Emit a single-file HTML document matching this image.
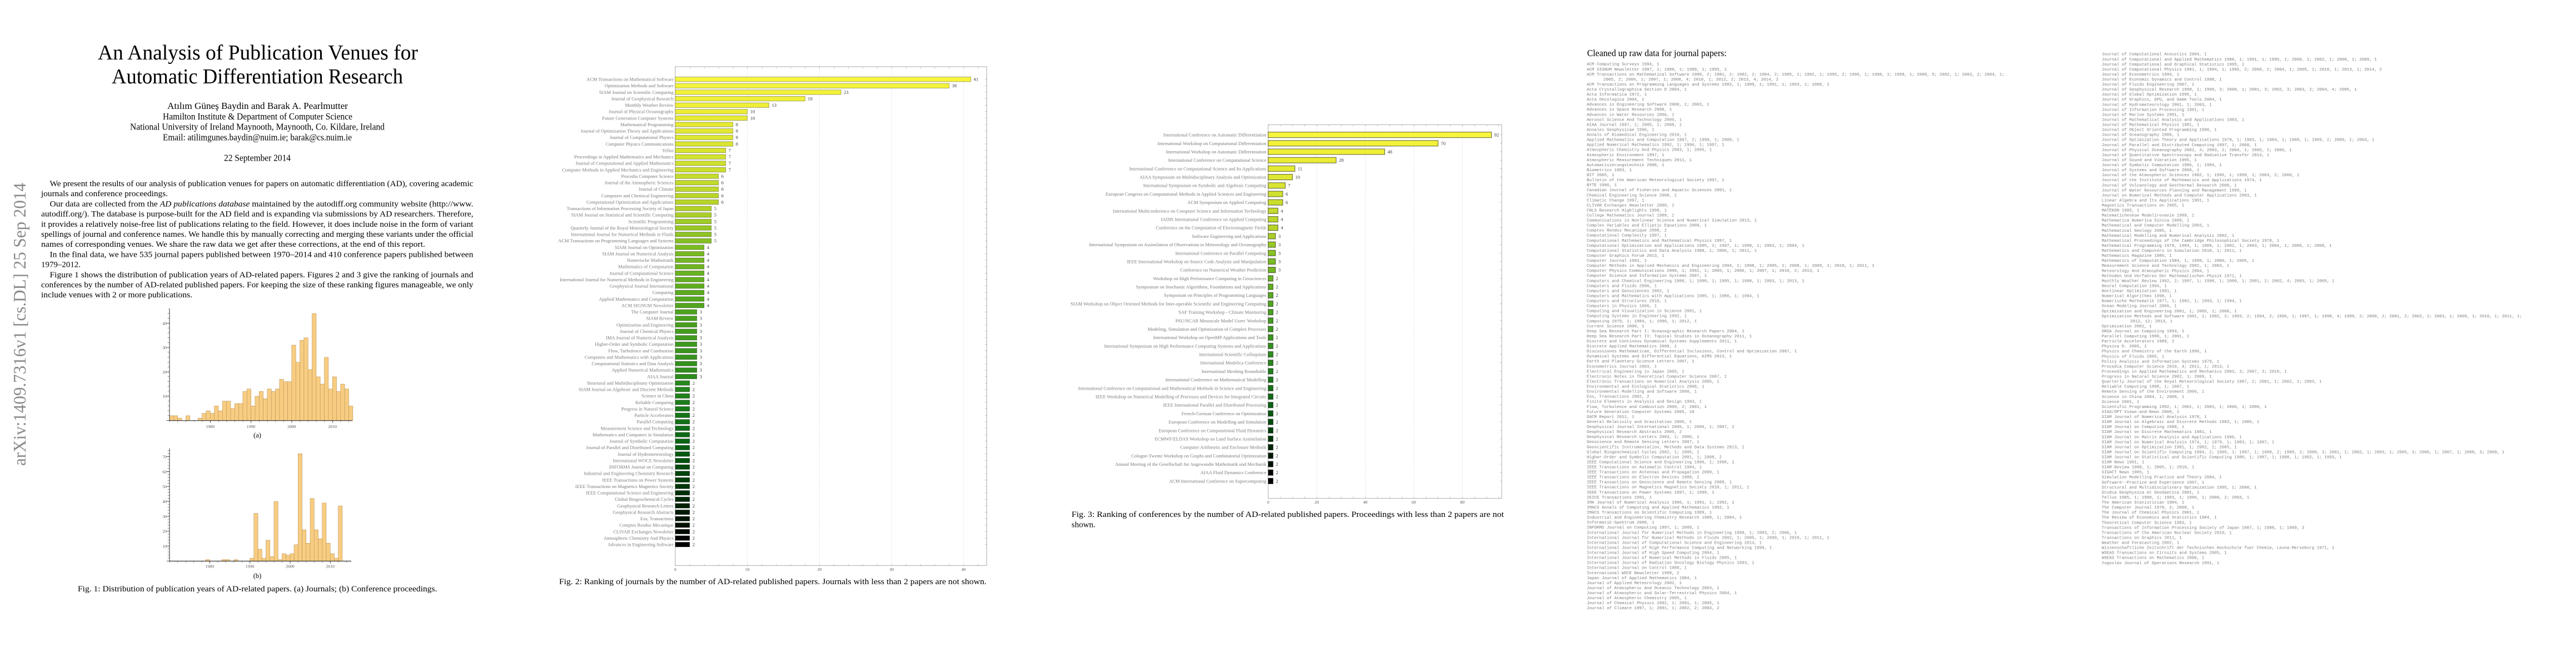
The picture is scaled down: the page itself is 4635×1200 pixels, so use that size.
<!DOCTYPE html>
<html><head><meta charset="utf-8"><style>
html,body{margin:0;padding:0;background:#fff;}
svg{display:block;}
.serif{font-family:"Liberation Serif","DejaVu Serif",serif;}
.jl{font-family:"Liberation Serif",serif;font-size:8.5px;fill:#7a7a7a;text-anchor:end;}
.vl{font-family:"Liberation Serif",serif;font-size:8.5px;fill:#3a3a3a;}
.tk{font-family:"Liberation Serif",serif;font-size:7.8px;fill:#555;}
.mono{font-family:"Liberation Mono",monospace;font-size:7.5px;fill:#7c7c7c;}
</style></head><body>
<svg width="4635" height="1200" viewBox="0 0 4635 1200" xmlns="http://www.w3.org/2000/svg">
<defs>
<linearGradient id="gj" gradientUnits="userSpaceOnUse" x1="0" y1="142.7" x2="0" y2="979.7">
<stop offset="0" stop-color="rgb(247,245,60)"/><stop offset="0.055" stop-color="rgb(238,238,55)"/><stop offset="0.15" stop-color="rgb(215,228,48)"/><stop offset="0.28" stop-color="rgb(178,210,40)"/><stop offset="0.36" stop-color="rgb(125,188,35)"/><stop offset="0.49" stop-color="rgb(80,165,30)"/><stop offset="0.64" stop-color="rgb(45,140,30)"/><stop offset="0.71" stop-color="rgb(25,120,25)"/><stop offset="0.78" stop-color="rgb(10,100,20)"/><stop offset="0.86" stop-color="rgb(0,62,10)"/><stop offset="0.9" stop-color="rgb(0,42,6)"/><stop offset="0.94" stop-color="rgb(0,22,3)"/><stop offset="1" stop-color="rgb(0,0,0)"/>
</linearGradient>
<linearGradient id="gc" gradientUnits="userSpaceOnUse" x1="0" y1="242.6" x2="0" y2="865.4">
<stop offset="0" stop-color="rgb(247,245,60)"/><stop offset="0.055" stop-color="rgb(238,238,55)"/><stop offset="0.15" stop-color="rgb(215,228,48)"/><stop offset="0.28" stop-color="rgb(178,210,40)"/><stop offset="0.36" stop-color="rgb(125,188,35)"/><stop offset="0.49" stop-color="rgb(80,165,30)"/><stop offset="0.64" stop-color="rgb(45,140,30)"/><stop offset="0.71" stop-color="rgb(25,120,25)"/><stop offset="0.78" stop-color="rgb(10,100,20)"/><stop offset="0.86" stop-color="rgb(0,62,10)"/><stop offset="0.9" stop-color="rgb(0,42,6)"/><stop offset="0.94" stop-color="rgb(0,22,3)"/><stop offset="1" stop-color="rgb(0,0,0)"/>
</linearGradient>
</defs>
<rect width="4635" height="1200" fill="#fff"/>

<!-- ================= PAGE 1 ================= -->
<text class="serif" transform="translate(46,838) rotate(-90)" font-size="32" fill="#8a8a8a" textLength="509" lengthAdjust="spacingAndGlyphs">arXiv:1409.7316v1  [cs.DL]  25 Sep 2014</text>

<g class="serif" fill="#000">
<text x="176" y="107" font-size="38" textLength="576" lengthAdjust="spacingAndGlyphs">An Analysis of Publication Venues for</text>
<text x="201" y="150" font-size="38" textLength="524" lengthAdjust="spacingAndGlyphs">Automatic Differentiation Research</text>
<text x="301" y="196" font-size="16.5" textLength="325" lengthAdjust="spacingAndGlyphs">Atılım Güneş Baydin and Barak A. Pearlmutter</text>
<text x="293" y="215" font-size="16.5" textLength="341" lengthAdjust="spacingAndGlyphs">Hamilton Institute &amp; Department of Computer Science</text>
<text x="234" y="233.5" font-size="16.5" textLength="458" lengthAdjust="spacingAndGlyphs">National University of Ireland Maynooth, Maynooth, Co. Kildare, Ireland</text>
<text x="293" y="252.5" font-size="16.5" textLength="340" lengthAdjust="spacingAndGlyphs">Email: atilimgunes.baydin@nuim.ie; barak@cs.nuim.ie</text>
<text x="403" y="289.5" font-size="16.5" textLength="120" lengthAdjust="spacingAndGlyphs">22 September 2014</text>

<g font-size="15">
<text x="89.5" y="335" textLength="762" lengthAdjust="spacingAndGlyphs">We present the results of our analysis of publication venues for papers on automatic differentiation (AD), covering academic</text>
<text x="74" y="353.2" textLength="228" lengthAdjust="spacingAndGlyphs">journals and conference proceedings.</text>
<text x="89.5" y="371.4" textLength="762" lengthAdjust="spacingAndGlyphs">Our data are collected from the <tspan font-style="italic">AD publications database</tspan> maintained by the autodiff.org community website (http://www.</text>
<text x="74" y="389.6" textLength="777.6" lengthAdjust="spacingAndGlyphs">autodiff.org/). The database is purpose-built for the AD field and is expanding via submissions by AD researchers. Therefore,</text>
<text x="74" y="407.8" textLength="777.6" lengthAdjust="spacingAndGlyphs">it provides a relatively noise-free list of publications relating to the field. However, it does include noise in the form of variant</text>
<text x="74" y="426" textLength="777.6" lengthAdjust="spacingAndGlyphs">spellings of journal and conference names. We handle this by manually correcting and merging these variants under the official</text>
<text x="74" y="444.2" textLength="691" lengthAdjust="spacingAndGlyphs">names of corresponding venues. We share the raw data we get after these corrections, at the end of this report.</text>
<text x="89.5" y="462.4" textLength="762" lengthAdjust="spacingAndGlyphs">In the final data, we have 535 journal papers published between 1970–2014 and 410 conference papers published between</text>
<text x="74" y="480.6" textLength="71" lengthAdjust="spacingAndGlyphs">1979–2012.</text>
<text x="89.5" y="498.8" textLength="762" lengthAdjust="spacingAndGlyphs">Figure 1 shows the distribution of publication years of AD-related papers. Figures 2 and 3 give the ranking of journals and</text>
<text x="74" y="517" textLength="777.6" lengthAdjust="spacingAndGlyphs">conferences by the number of AD-related published papers. For keeping the size of these ranking figures manageable, we only</text>
<text x="74" y="535.2" textLength="272" lengthAdjust="spacingAndGlyphs">include venues with 2 or more publications.</text>
<text x="140" y="1064" textLength="646.5" lengthAdjust="spacingAndGlyphs">Fig. 1: Distribution of publication years of AD-related papers. (a) Journals; (b) Conference proceedings.</text>
</g>
<text x="463" y="787" font-size="12.5" text-anchor="middle">(a)</text>
<text x="463" y="1040" font-size="12.5" text-anchor="middle">(b)</text>
</g>

<!-- Histogram (a) -->
<g transform="translate(305,756.7) scale(7.33,-4.378)" fill="#f8cd82" stroke="#b8925a" stroke-width="0.6">
<rect vector-effect="non-scaling-stroke" x="0" y="0" width="1" height="2"/>
<rect vector-effect="non-scaling-stroke" x="1" y="0" width="1" height="2"/>
<rect vector-effect="non-scaling-stroke" x="2" y="0" width="1" height="1"/>
<rect vector-effect="non-scaling-stroke" x="4" y="0" width="1" height="2"/>
<rect vector-effect="non-scaling-stroke" x="7" y="0" width="1" height="1"/>
<rect vector-effect="non-scaling-stroke" x="8" y="0" width="1" height="3"/>
<rect vector-effect="non-scaling-stroke" x="9" y="0" width="1" height="4"/>
<rect vector-effect="non-scaling-stroke" x="10" y="0" width="1" height="3"/>
<rect vector-effect="non-scaling-stroke" x="11" y="0" width="1" height="6"/>
<rect vector-effect="non-scaling-stroke" x="12" y="0" width="1" height="4"/>
<rect vector-effect="non-scaling-stroke" x="13" y="0" width="1" height="8"/>
<rect vector-effect="non-scaling-stroke" x="14" y="0" width="1" height="8"/>
<rect vector-effect="non-scaling-stroke" x="15" y="0" width="1" height="5"/>
<rect vector-effect="non-scaling-stroke" x="16" y="0" width="1" height="7"/>
<rect vector-effect="non-scaling-stroke" x="17" y="0" width="1" height="7"/>
<rect vector-effect="non-scaling-stroke" x="18" y="0" width="1" height="12"/>
<rect vector-effect="non-scaling-stroke" x="19" y="0" width="1" height="13"/>
<rect vector-effect="non-scaling-stroke" x="20" y="0" width="1" height="6"/>
<rect vector-effect="non-scaling-stroke" x="21" y="0" width="1" height="10"/>
<rect vector-effect="non-scaling-stroke" x="22" y="0" width="1" height="12"/>
<rect vector-effect="non-scaling-stroke" x="23" y="0" width="1" height="9"/>
<rect vector-effect="non-scaling-stroke" x="24" y="0" width="1" height="13"/>
<rect vector-effect="non-scaling-stroke" x="25" y="0" width="1" height="12"/>
<rect vector-effect="non-scaling-stroke" x="26" y="0" width="1" height="13"/>
<rect vector-effect="non-scaling-stroke" x="27" y="0" width="1" height="17"/>
<rect vector-effect="non-scaling-stroke" x="28" y="0" width="1" height="16"/>
<rect vector-effect="non-scaling-stroke" x="29" y="0" width="1" height="16"/>
<rect vector-effect="non-scaling-stroke" x="30" y="0" width="1" height="31"/>
<rect vector-effect="non-scaling-stroke" x="31" y="0" width="1" height="24"/>
<rect vector-effect="non-scaling-stroke" x="32" y="0" width="1" height="33"/>
<rect vector-effect="non-scaling-stroke" x="33" y="0" width="1" height="34"/>
<rect vector-effect="non-scaling-stroke" x="34" y="0" width="1" height="21"/>
<rect vector-effect="non-scaling-stroke" x="35" y="0" width="1" height="44"/>
<rect vector-effect="non-scaling-stroke" x="36" y="0" width="1" height="18"/>
<rect vector-effect="non-scaling-stroke" x="37" y="0" width="1" height="15"/>
<rect vector-effect="non-scaling-stroke" x="38" y="0" width="1" height="26"/>
<rect vector-effect="non-scaling-stroke" x="39" y="0" width="1" height="13"/>
<rect vector-effect="non-scaling-stroke" x="40" y="0" width="1" height="18"/>
<rect vector-effect="non-scaling-stroke" x="41" y="0" width="1" height="12"/>
<rect vector-effect="non-scaling-stroke" x="42" y="0" width="1" height="15"/>
<rect vector-effect="non-scaling-stroke" x="43" y="0" width="1" height="13"/>
<rect vector-effect="non-scaling-stroke" x="44" y="0" width="1" height="6"/>
</g>
<g stroke="#333" fill="none">
<line x1="305" y1="555" x2="305" y2="757.2" stroke-width="1"/>
<line x1="304.5" y1="756.7" x2="634" y2="756.7" stroke-width="1.2"/>
<line x1="303" y1="756.7" x2="303" y2="555" stroke-width="3" stroke-dasharray="0.6 8.156" stroke-opacity="0.8"/>
<line x1="302" y1="757" x2="302" y2="560" stroke-width="5" stroke-dasharray="0.7 43.08"/>
<line x1="305" y1="758" x2="634" y2="758" stroke-width="3" stroke-dasharray="0.6 14.06" stroke-opacity="0.8"/>
<line x1="378" y1="759" x2="634" y2="759" stroke-width="4" stroke-dasharray="0.7 72.6"/>
</g>
<g class="tk" text-anchor="end">
<text x="300" y="715.7">10</text><text x="300" y="671.9">20</text><text x="300" y="628.2">30</text><text x="300" y="584.4">40</text>
</g>
<g class="tk" text-anchor="middle">
<text x="378.3" y="770">1980</text><text x="451.6" y="770">1990</text><text x="524.9" y="770">2000</text><text x="598.2" y="770">2010</text>
</g>

<!-- Histogram (b) -->
<g transform="translate(305,1009.5) scale(7.23,-2.683)" fill="#f8cd82" stroke="#b8925a" stroke-width="0.6">
<rect vector-effect="non-scaling-stroke" x="9" y="0" width="1" height="1"/>
<rect vector-effect="non-scaling-stroke" x="13" y="0" width="1" height="1"/>
<rect vector-effect="non-scaling-stroke" x="14" y="0" width="1" height="1"/>
<rect vector-effect="non-scaling-stroke" x="16" y="0" width="1" height="1"/>
<rect vector-effect="non-scaling-stroke" x="20" y="0" width="1" height="2"/>
<rect vector-effect="non-scaling-stroke" x="21" y="0" width="1" height="32"/>
<rect vector-effect="non-scaling-stroke" x="22" y="0" width="1" height="8"/>
<rect vector-effect="non-scaling-stroke" x="23" y="0" width="1" height="2"/>
<rect vector-effect="non-scaling-stroke" x="24" y="0" width="1" height="14"/>
<rect vector-effect="non-scaling-stroke" x="25" y="0" width="1" height="3"/>
<rect vector-effect="non-scaling-stroke" x="26" y="0" width="1" height="40"/>
<rect vector-effect="non-scaling-stroke" x="27" y="0" width="1" height="1"/>
<rect vector-effect="non-scaling-stroke" x="28" y="0" width="1" height="5"/>
<rect vector-effect="non-scaling-stroke" x="29" y="0" width="1" height="4"/>
<rect vector-effect="non-scaling-stroke" x="30" y="0" width="1" height="5"/>
<rect vector-effect="non-scaling-stroke" x="31" y="0" width="1" height="11"/>
<rect vector-effect="non-scaling-stroke" x="32" y="0" width="1" height="72"/>
<rect vector-effect="non-scaling-stroke" x="33" y="0" width="1" height="21"/>
<rect vector-effect="non-scaling-stroke" x="34" y="0" width="1" height="12"/>
<rect vector-effect="non-scaling-stroke" x="35" y="0" width="1" height="42"/>
<rect vector-effect="non-scaling-stroke" x="36" y="0" width="1" height="21"/>
<rect vector-effect="non-scaling-stroke" x="37" y="0" width="1" height="15"/>
<rect vector-effect="non-scaling-stroke" x="38" y="0" width="1" height="39"/>
<rect vector-effect="non-scaling-stroke" x="39" y="0" width="1" height="12"/>
<rect vector-effect="non-scaling-stroke" x="40" y="0" width="1" height="5"/>
<rect vector-effect="non-scaling-stroke" x="41" y="0" width="1" height="2"/>
<rect vector-effect="non-scaling-stroke" x="42" y="0" width="1" height="37"/>
</g>
<g stroke="#333" fill="none">
<line x1="305" y1="806.7" x2="305" y2="1010" stroke-width="1"/>
<line x1="304.5" y1="1009.5" x2="632" y2="1009.5" stroke-width="1.2"/>
<line x1="303" y1="1009.5" x2="303" y2="806.7" stroke-width="3" stroke-dasharray="0.6 4.766" stroke-opacity="0.8"/>
<line x1="302" y1="1009.8" x2="302" y2="815" stroke-width="5" stroke-dasharray="0.7 26.13"/>
<line x1="305" y1="1011" x2="632" y2="1011" stroke-width="3" stroke-dasharray="0.6 13.86" stroke-opacity="0.8"/>
<line x1="377" y1="1012" x2="632" y2="1012" stroke-width="4" stroke-dasharray="0.7 71.6"/>
</g>
<g class="tk" text-anchor="end">
<text x="300" y="985.5">10</text><text x="300" y="958.6">20</text><text x="300" y="931.8">30</text><text x="300" y="905">40</text><text x="300" y="878.1">50</text><text x="300" y="851.3">60</text><text x="300" y="824.5">70</text>
</g>
<g class="tk" text-anchor="middle">
<text x="377.3" y="1021.5">1980</text><text x="449.6" y="1021.5">1990</text><text x="521.9" y="1021.5">2000</text><text x="594.2" y="1021.5">2010</text>
</g>

<!-- ================= PAGE 2: Journals ================= -->
<g fill="none" stroke="#d0d0d0" stroke-width="0.7" stroke-dasharray="1.5 1.5">
<line x1="1344.7" y1="120" x2="1344.7" y2="1017.6"/><line x1="1474.4" y1="120" x2="1474.4" y2="1017.6"/><line x1="1604.1" y1="120" x2="1604.1" y2="1017.6"/><line x1="1733.8" y1="120" x2="1733.8" y2="1017.6"/>
</g>
<rect x="1215" y="120" width="560.4" height="897.6" fill="none" stroke="#9a9a9a" stroke-width="0.8"/>
<g stroke="#9a9a9a" fill="none">
<line x1="1215" y1="121.5" x2="1775" y2="121.5" stroke-width="3" stroke-dasharray="0.6 25.34"/>
<line x1="1215" y1="1016.1" x2="1775" y2="1016.1" stroke-width="3" stroke-dasharray="0.6 25.34"/>
<line x1="1216.5" y1="142.4" x2="1216.5" y2="985" stroke-width="3" stroke-dasharray="0.6 11.025"/>
<line x1="1773.9" y1="142.4" x2="1773.9" y2="985" stroke-width="3" stroke-dasharray="0.6 11.025"/>
</g>
<g class="tk" text-anchor="middle">
<text x="1215" y="1027">0</text><text x="1344.7" y="1027">10</text><text x="1474.4" y="1027">20</text><text x="1604.1" y="1027">30</text><text x="1733.8" y="1027">40</text>
</g>
<g fill="url(#gj)" stroke="#000" stroke-opacity="0.4" stroke-width="0.8">
<rect x="1215" y="138.50" width="531.8" height="8.4"/>
<rect x="1215" y="150.13" width="492.9" height="8.4"/>
<rect x="1215" y="161.75" width="298.3" height="8.4"/>
<rect x="1215" y="173.38" width="233.5" height="8.4"/>
<rect x="1215" y="185.00" width="168.6" height="8.4"/>
<rect x="1215" y="196.63" width="129.7" height="8.4"/>
<rect x="1215" y="208.25" width="129.7" height="8.4"/>
<rect x="1215" y="219.88" width="103.8" height="8.4"/>
<rect x="1215" y="231.50" width="103.8" height="8.4"/>
<rect x="1215" y="243.13" width="103.8" height="8.4"/>
<rect x="1215" y="254.75" width="103.8" height="8.4"/>
<rect x="1215" y="266.38" width="90.8" height="8.4"/>
<rect x="1215" y="278.00" width="90.8" height="8.4"/>
<rect x="1215" y="289.63" width="90.8" height="8.4"/>
<rect x="1215" y="301.25" width="90.8" height="8.4"/>
<rect x="1215" y="312.88" width="77.8" height="8.4"/>
<rect x="1215" y="324.50" width="77.8" height="8.4"/>
<rect x="1215" y="336.13" width="77.8" height="8.4"/>
<rect x="1215" y="347.75" width="77.8" height="8.4"/>
<rect x="1215" y="359.38" width="77.8" height="8.4"/>
<rect x="1215" y="371.00" width="64.9" height="8.4"/>
<rect x="1215" y="382.63" width="64.9" height="8.4"/>
<rect x="1215" y="394.25" width="64.9" height="8.4"/>
<rect x="1215" y="405.88" width="64.9" height="8.4"/>
<rect x="1215" y="417.50" width="64.9" height="8.4"/>
<rect x="1215" y="429.13" width="64.9" height="8.4"/>
<rect x="1215" y="440.75" width="51.9" height="8.4"/>
<rect x="1215" y="452.38" width="51.9" height="8.4"/>
<rect x="1215" y="464.00" width="51.9" height="8.4"/>
<rect x="1215" y="475.63" width="51.9" height="8.4"/>
<rect x="1215" y="487.25" width="51.9" height="8.4"/>
<rect x="1215" y="498.88" width="51.9" height="8.4"/>
<rect x="1215" y="510.50" width="51.9" height="8.4"/>
<rect x="1215" y="522.13" width="51.9" height="8.4"/>
<rect x="1215" y="533.75" width="51.9" height="8.4"/>
<rect x="1215" y="545.38" width="51.9" height="8.4"/>
<rect x="1215" y="557.00" width="38.9" height="8.4"/>
<rect x="1215" y="568.63" width="38.9" height="8.4"/>
<rect x="1215" y="580.25" width="38.9" height="8.4"/>
<rect x="1215" y="591.88" width="38.9" height="8.4"/>
<rect x="1215" y="603.50" width="38.9" height="8.4"/>
<rect x="1215" y="615.13" width="38.9" height="8.4"/>
<rect x="1215" y="626.75" width="38.9" height="8.4"/>
<rect x="1215" y="638.38" width="38.9" height="8.4"/>
<rect x="1215" y="650.00" width="38.9" height="8.4"/>
<rect x="1215" y="661.63" width="38.9" height="8.4"/>
<rect x="1215" y="673.25" width="38.9" height="8.4"/>
<rect x="1215" y="684.88" width="25.9" height="8.4"/>
<rect x="1215" y="696.50" width="25.9" height="8.4"/>
<rect x="1215" y="708.13" width="25.9" height="8.4"/>
<rect x="1215" y="719.75" width="25.9" height="8.4"/>
<rect x="1215" y="731.38" width="25.9" height="8.4"/>
<rect x="1215" y="743.00" width="25.9" height="8.4"/>
<rect x="1215" y="754.63" width="25.9" height="8.4"/>
<rect x="1215" y="766.25" width="25.9" height="8.4"/>
<rect x="1215" y="777.88" width="25.9" height="8.4"/>
<rect x="1215" y="789.50" width="25.9" height="8.4"/>
<rect x="1215" y="801.13" width="25.9" height="8.4"/>
<rect x="1215" y="812.75" width="25.9" height="8.4"/>
<rect x="1215" y="824.38" width="25.9" height="8.4"/>
<rect x="1215" y="836.00" width="25.9" height="8.4"/>
<rect x="1215" y="847.63" width="25.9" height="8.4"/>
<rect x="1215" y="859.25" width="25.9" height="8.4"/>
<rect x="1215" y="870.88" width="25.9" height="8.4"/>
<rect x="1215" y="882.50" width="25.9" height="8.4"/>
<rect x="1215" y="894.13" width="25.9" height="8.4"/>
<rect x="1215" y="905.75" width="25.9" height="8.4"/>
<rect x="1215" y="917.38" width="25.9" height="8.4"/>
<rect x="1215" y="929.00" width="25.9" height="8.4"/>
<rect x="1215" y="940.63" width="25.9" height="8.4"/>
<rect x="1215" y="952.25" width="25.9" height="8.4"/>
<rect x="1215" y="963.88" width="25.9" height="8.4"/>
<rect x="1215" y="975.50" width="25.9" height="8.4"/>
</g>
<g class="jl">
<text x="1212" y="145.6">ACM Transactions on Mathematical Software</text>
<text x="1212" y="157.2">Optimization Methods and Software</text>
<text x="1212" y="168.85">SIAM Journal on Scientific Computing</text>
<text x="1212" y="180.5">Journal of Geophysical Research</text>
<text x="1212" y="192.1">Monthly Weather Review</text>
<text x="1212" y="203.7">Journal of Physical Oceanography</text>
<text x="1212" y="215.35">Future Generation Computer Systems</text>
<text x="1212" y="227.0">Mathematical Programming</text>
<text x="1212" y="238.6">Journal of Optimization Theory and Applications</text>
<text x="1212" y="250.2">Journal of Computational Physics</text>
<text x="1212" y="261.85">Computer Physics Communications</text>
<text x="1212" y="273.5">Tellus</text>
<text x="1212" y="285.1">Proceedings in Applied Mathematics and Mechanics</text>
<text x="1212" y="296.7">Journal of Computational and Applied Mathematics</text>
<text x="1212" y="308.35">Computer Methods in Applied Mechanics and Engineering</text>
<text x="1212" y="320.0">Procedia Computer Science</text>
<text x="1212" y="331.6">Journal of the Atmospheric Sciences</text>
<text x="1212" y="343.2">Journal of Climate</text>
<text x="1212" y="354.85">Computers and Chemical Engineering</text>
<text x="1212" y="366.5">Computational Optimization and Applications</text>
<text x="1212" y="378.1">Transactions of Information Processing Society of Japan</text>
<text x="1212" y="389.7">SIAM Journal on Statistical and Scientific Computing</text>
<text x="1212" y="401.35">Scientific Programming</text>
<text x="1212" y="413.0">Quarterly Journal of the Royal Meteorological Society</text>
<text x="1212" y="424.6">International Journal for Numerical Methods in Fluids</text>
<text x="1212" y="436.2">ACM Transactions on Programming Languages and Systems</text>
<text x="1212" y="447.85">SIAM Journal on Optimization</text>
<text x="1212" y="459.5">SIAM Journal on Numerical Analysis</text>
<text x="1212" y="471.1">Numerische Mathematik</text>
<text x="1212" y="482.7">Mathematics of Computation</text>
<text x="1212" y="494.35">Journal of Computational Science</text>
<text x="1212" y="506.0">International Journal for Numerical Methods in Engineering</text>
<text x="1212" y="517.6">Geophysical Journal International</text>
<text x="1212" y="529.2">Computing</text>
<text x="1212" y="540.85">Applied Mathematics and Computation</text>
<text x="1212" y="552.5">ACM SIGNUM Newsletter</text>
<text x="1212" y="564.1">The Computer Journal</text>
<text x="1212" y="575.7">SIAM Review</text>
<text x="1212" y="587.35">Optimization and Engineering</text>
<text x="1212" y="599.0">Journal of Chemical Physics</text>
<text x="1212" y="610.6">IMA Journal of Numerical Analysis</text>
<text x="1212" y="622.2">Higher-Order and Symbolic Computation</text>
<text x="1212" y="633.85">Flow, Turbulence and Combustion</text>
<text x="1212" y="645.5">Computers and Mathematics with Applications</text>
<text x="1212" y="657.1">Computational Statistics and Data Analysis</text>
<text x="1212" y="668.7">Applied Numerical Mathematics</text>
<text x="1212" y="680.35">AIAA Journal</text>
<text x="1212" y="692.0">Structural and Multidisciplinary Optimization</text>
<text x="1212" y="703.6">SIAM Journal on Algebraic and Discrete Methods</text>
<text x="1212" y="715.2">Science in China</text>
<text x="1212" y="726.85">Reliable Computing</text>
<text x="1212" y="738.5">Progress in Natural Science</text>
<text x="1212" y="750.1">Particle Accelerators</text>
<text x="1212" y="761.7">Parallel Computing</text>
<text x="1212" y="773.35">Measurement Science and Technology</text>
<text x="1212" y="785.0">Mathematics and Computers in Simulation</text>
<text x="1212" y="796.6">Journal of Symbolic Computation</text>
<text x="1212" y="808.2">Journal of Parallel and Distributed Computing</text>
<text x="1212" y="819.85">Journal of Hydrometeorology</text>
<text x="1212" y="831.5">International WOCE Newsletter</text>
<text x="1212" y="843.1">INFORMS Journal on Computing</text>
<text x="1212" y="854.7">Industrial and Engineering Chemistry Research</text>
<text x="1212" y="866.35">IEEE Transactions on Power Systems</text>
<text x="1212" y="878.0">IEEE Transactions on Magnetics Magnetics Society</text>
<text x="1212" y="889.6">IEEE Computational Science and Engineering</text>
<text x="1212" y="901.2">Global Biogeochemical Cycles</text>
<text x="1212" y="912.85">Geophysical Research Letters</text>
<text x="1212" y="924.5">Geophysical Research Abstracts</text>
<text x="1212" y="936.1">Eos, Transactions</text>
<text x="1212" y="947.7">Comptes Rendus Mecanique</text>
<text x="1212" y="959.35">CLIVAR Exchanges Newsletter</text>
<text x="1212" y="971.0">Atmospheric Chemistry And Physics</text>
<text x="1212" y="982.6">Advances in Engineering Software</text>
</g>
<g class="vl">
<text x="1751.8" y="145.6">41</text><text x="1712.9" y="157.2">38</text><text x="1518.3" y="168.85">23</text><text x="1453.5" y="180.5">18</text><text x="1388.6" y="192.1">13</text><text x="1349.7" y="203.7">10</text><text x="1349.7" y="215.35">10</text>
<text x="1323.8" y="227.0">8</text><text x="1323.8" y="238.6">8</text><text x="1323.8" y="250.2">8</text><text x="1323.8" y="261.85">8</text>
<text x="1310.8" y="273.5">7</text><text x="1310.8" y="285.1">7</text><text x="1310.8" y="296.7">7</text><text x="1310.8" y="308.35">7</text>
<text x="1297.8" y="320.0">6</text><text x="1297.8" y="331.6">6</text><text x="1297.8" y="343.2">6</text><text x="1297.8" y="354.85">6</text><text x="1297.8" y="366.5">6</text>
<text x="1284.9" y="378.1">5</text><text x="1284.9" y="389.7">5</text><text x="1284.9" y="401.35">5</text><text x="1284.9" y="413.0">5</text><text x="1284.9" y="424.6">5</text><text x="1284.9" y="436.2">5</text>
<text x="1271.9" y="447.85">4</text><text x="1271.9" y="459.5">4</text><text x="1271.9" y="471.1">4</text><text x="1271.9" y="482.7">4</text><text x="1271.9" y="494.35">4</text><text x="1271.9" y="506.0">4</text><text x="1271.9" y="517.6">4</text><text x="1271.9" y="529.2">4</text><text x="1271.9" y="540.85">4</text><text x="1271.9" y="552.5">4</text>
<text x="1258.9" y="564.1">3</text><text x="1258.9" y="575.7">3</text><text x="1258.9" y="587.35">3</text><text x="1258.9" y="599.0">3</text><text x="1258.9" y="610.6">3</text><text x="1258.9" y="622.2">3</text><text x="1258.9" y="633.85">3</text><text x="1258.9" y="645.5">3</text><text x="1258.9" y="657.1">3</text><text x="1258.9" y="668.7">3</text><text x="1258.9" y="680.35">3</text>
<text x="1245.9" y="692.0">2</text><text x="1245.9" y="703.6">2</text><text x="1245.9" y="715.2">2</text><text x="1245.9" y="726.85">2</text><text x="1245.9" y="738.5">2</text><text x="1245.9" y="750.1">2</text><text x="1245.9" y="761.7">2</text><text x="1245.9" y="773.35">2</text><text x="1245.9" y="785.0">2</text><text x="1245.9" y="796.6">2</text><text x="1245.9" y="808.2">2</text><text x="1245.9" y="819.85">2</text><text x="1245.9" y="831.5">2</text><text x="1245.9" y="843.1">2</text><text x="1245.9" y="854.7">2</text><text x="1245.9" y="866.35">2</text><text x="1245.9" y="878.0">2</text><text x="1245.9" y="889.6">2</text><text x="1245.9" y="901.2">2</text><text x="1245.9" y="912.85">2</text><text x="1245.9" y="924.5">2</text><text x="1245.9" y="936.1">2</text><text x="1245.9" y="947.7">2</text><text x="1245.9" y="959.35">2</text><text x="1245.9" y="971.0">2</text><text x="1245.9" y="982.6">2</text>
</g>
<text class="serif" x="1006" y="1051" font-size="15" textLength="769" lengthAdjust="spacingAndGlyphs">Fig. 2: Ranking of journals by the number of AD-related published papers. Journals with less than 2 papers are not shown.</text>

<!-- ================= PAGE 3: Conferences ================= -->
<g fill="none" stroke="#d0d0d0" stroke-width="0.7" stroke-dasharray="1.5 1.5">
<line x1="2369.2" y1="224.3" x2="2369.2" y2="896.7"/><line x1="2456.5" y1="224.3" x2="2456.5" y2="896.7"/><line x1="2543.9" y1="224.3" x2="2543.9" y2="896.7"/><line x1="2631.2" y1="224.3" x2="2631.2" y2="896.7"/>
</g>
<rect x="2281.9" y="224.3" width="420.1" height="672.4" fill="none" stroke="#9a9a9a" stroke-width="0.8"/>
<g stroke="#9a9a9a" fill="none">
<line x1="2281.9" y1="225.8" x2="2702" y2="225.8" stroke-width="3" stroke-dasharray="0.6 21.23"/>
<line x1="2281.9" y1="895.2" x2="2702" y2="895.2" stroke-width="3" stroke-dasharray="0.6 21.23"/>
<line x1="2700.5" y1="242.3" x2="2700.5" y2="870" stroke-width="3" stroke-dasharray="0.6 14.59"/>
</g>
<g class="tk" text-anchor="middle">
<text x="2281.9" y="906">0</text><text x="2369.2" y="906">20</text><text x="2456.5" y="906">40</text><text x="2543.9" y="906">60</text><text x="2631.2" y="906">80</text>
</g>
<g fill="url(#gc)" stroke="#000" stroke-opacity="0.55" stroke-width="1.1">
<rect x="2281.9" y="237.60" width="401.7" height="10"/>
<rect x="2281.9" y="252.79" width="305.6" height="10"/>
<rect x="2281.9" y="267.98" width="209.6" height="10"/>
<rect x="2281.9" y="283.17" width="122.2" height="10"/>
<rect x="2281.9" y="298.36" width="48.0" height="10"/>
<rect x="2281.9" y="313.55" width="43.7" height="10"/>
<rect x="2281.9" y="328.74" width="30.6" height="10"/>
<rect x="2281.9" y="343.93" width="26.2" height="10"/>
<rect x="2281.9" y="359.12" width="26.2" height="10"/>
<rect x="2281.9" y="374.31" width="17.5" height="10"/>
<rect x="2281.9" y="389.50" width="17.5" height="10"/>
<rect x="2281.9" y="404.69" width="17.5" height="10"/>
<rect x="2281.9" y="419.88" width="13.1" height="10"/>
<rect x="2281.9" y="435.07" width="13.1" height="10"/>
<rect x="2281.9" y="450.26" width="13.1" height="10"/>
<rect x="2281.9" y="465.45" width="13.1" height="10"/>
<rect x="2281.9" y="480.64" width="13.1" height="10"/>
<rect x="2281.9" y="495.83" width="8.7" height="10"/>
<rect x="2281.9" y="511.02" width="8.7" height="10"/>
<rect x="2281.9" y="526.21" width="8.7" height="10"/>
<rect x="2281.9" y="541.40" width="8.7" height="10"/>
<rect x="2281.9" y="556.59" width="8.7" height="10"/>
<rect x="2281.9" y="571.78" width="8.7" height="10"/>
<rect x="2281.9" y="586.97" width="8.7" height="10"/>
<rect x="2281.9" y="602.16" width="8.7" height="10"/>
<rect x="2281.9" y="617.35" width="8.7" height="10"/>
<rect x="2281.9" y="632.54" width="8.7" height="10"/>
<rect x="2281.9" y="647.73" width="8.7" height="10"/>
<rect x="2281.9" y="662.92" width="8.7" height="10"/>
<rect x="2281.9" y="678.11" width="8.7" height="10"/>
<rect x="2281.9" y="693.30" width="8.7" height="10"/>
<rect x="2281.9" y="708.49" width="8.7" height="10"/>
<rect x="2281.9" y="723.68" width="8.7" height="10"/>
<rect x="2281.9" y="738.87" width="8.7" height="10"/>
<rect x="2281.9" y="754.06" width="8.7" height="10"/>
<rect x="2281.9" y="769.25" width="8.7" height="10"/>
<rect x="2281.9" y="784.44" width="8.7" height="10"/>
<rect x="2281.9" y="799.63" width="8.7" height="10"/>
<rect x="2281.9" y="814.82" width="8.7" height="10"/>
<rect x="2281.9" y="830.01" width="8.7" height="10"/>
<rect x="2281.9" y="845.20" width="8.7" height="10"/>
<rect x="2281.9" y="860.39" width="8.7" height="10"/>
</g>
<g class="jl">
<text x="2278.5" y="245.60">International Conference on Automatic Differentiation</text>
<text x="2278.5" y="260.79">International Workshop on Computational Differentiation</text>
<text x="2278.5" y="275.98">International Workshop on Automatic Differentiation</text>
<text x="2278.5" y="291.17">International Conference on Computational Science</text>
<text x="2278.5" y="306.36">International Conference on Computational Science and Its Applications</text>
<text x="2278.5" y="321.55">AIAA Symposium on Multidisciplinary Analysis and Optimization</text>
<text x="2278.5" y="336.74">International Symposium on Symbolic and Algebraic Computing</text>
<text x="2278.5" y="351.93">European Congress on Computational Methods in Applied Sciences and Engineering</text>
<text x="2278.5" y="367.12">ACM Symposium on Applied Computing</text>
<text x="2278.5" y="382.31">International Multiconference on Computer Science and Information Technology</text>
<text x="2278.5" y="397.50">IADIS International Conference on Applied Computing</text>
<text x="2278.5" y="412.69">Conference on the Computation of Electromagnetic Fields</text>
<text x="2278.5" y="427.88">Software Engineering and Applications</text>
<text x="2278.5" y="443.07">International Symposium on Assimilation of Observations in Meteorology and Oceanography</text>
<text x="2278.5" y="458.26">International Conference on Parallel Computing</text>
<text x="2278.5" y="473.45">IEEE International Workshop on Source Code Analysis and Manipulation</text>
<text x="2278.5" y="488.64">Conference on Numerical Weather Prediction</text>
<text x="2278.5" y="503.83">Workshop on High Performance Computing in Geosciences</text>
<text x="2278.5" y="519.02">Symposium on Stochastic Algorithms, Foundations and Applications</text>
<text x="2278.5" y="534.21">Symposium on Principles of Programming Languages</text>
<text x="2278.5" y="549.40">SIAM Workshop on Object Oriented Methods for Inter-operable Scientific and Engineering Computing</text>
<text x="2278.5" y="564.59">SAF Training Workshop - Climate Monitoring</text>
<text x="2278.5" y="579.78">PSU/NCAR Mesoscale Model Users' Workshop</text>
<text x="2278.5" y="594.97">Modeling, Simulation and Optimization of Complex Processes</text>
<text x="2278.5" y="610.16">International Workshop on OpenMP Applications and Tools</text>
<text x="2278.5" y="625.35">International Symposium on High Performance Computing Systems and Applications</text>
<text x="2278.5" y="640.54">International Scientific Colloquium</text>
<text x="2278.5" y="655.73">International Modelica Conference</text>
<text x="2278.5" y="670.92">International Meshing Roundtable</text>
<text x="2278.5" y="686.11">International Conference on Mathematical Modelling</text>
<text x="2278.5" y="701.30">International Conference on Computational and Mathematical Methods in Science and Engineering</text>
<text x="2278.5" y="716.49">IEEE Workshop on Numerical Modelling of Processes and Devices for Integrated Circuits</text>
<text x="2278.5" y="731.68">IEEE International Parallel and Distributed Processing</text>
<text x="2278.5" y="746.87">French-German Conference on Optimization</text>
<text x="2278.5" y="762.06">European Conference on Modelling and Simulation</text>
<text x="2278.5" y="777.25">European Conference on Computational Fluid Dynamics</text>
<text x="2278.5" y="792.44">ECMWF/ELDAS Workshop on Land Surface Assimilation</text>
<text x="2278.5" y="807.63">Computer Arithmetic and Enclosure Methods</text>
<text x="2278.5" y="822.82">Cologne-Twente Workshop on Graphs and Combinatorial Optimization</text>
<text x="2278.5" y="838.01">Annual Meeting of the Gesellschaft fur Angewandte Mathematik und Mechanik</text>
<text x="2278.5" y="853.20">AIAA Fluid Dynamics Conference</text>
<text x="2278.5" y="868.39">ACM International Conference on Supercomputing</text>
</g>
<g class="vl">
<text x="2688.6" y="245.60">92</text><text x="2592.5" y="260.79">70</text><text x="2496.5" y="275.98">48</text><text x="2409.1" y="291.17">28</text><text x="2334.9" y="306.36">11</text><text x="2330.6" y="321.55">10</text><text x="2317.5" y="336.74">7</text><text x="2313.1" y="351.93">6</text><text x="2313.1" y="367.12">6</text>
<text x="2304.4" y="382.31">4</text><text x="2304.4" y="397.50">4</text><text x="2304.4" y="412.69">4</text>
<text x="2300" y="427.88">3</text><text x="2300" y="443.07">3</text><text x="2300" y="458.26">3</text><text x="2300" y="473.45">3</text><text x="2300" y="488.64">3</text>
<text x="2295.6" y="503.83">2</text><text x="2295.6" y="519.02">2</text><text x="2295.6" y="534.21">2</text><text x="2295.6" y="549.40">2</text><text x="2295.6" y="564.59">2</text><text x="2295.6" y="579.78">2</text><text x="2295.6" y="594.97">2</text><text x="2295.6" y="610.16">2</text><text x="2295.6" y="625.35">2</text><text x="2295.6" y="640.54">2</text><text x="2295.6" y="655.73">2</text><text x="2295.6" y="670.92">2</text><text x="2295.6" y="686.11">2</text><text x="2295.6" y="701.30">2</text><text x="2295.6" y="716.49">2</text><text x="2295.6" y="731.68">2</text><text x="2295.6" y="746.87">2</text><text x="2295.6" y="762.06">2</text><text x="2295.6" y="777.25">2</text><text x="2295.6" y="792.44">2</text><text x="2295.6" y="807.63">2</text><text x="2295.6" y="822.82">2</text><text x="2295.6" y="838.01">2</text><text x="2295.6" y="853.20">2</text><text x="2295.6" y="868.39">2</text>
</g>
<text class="serif" x="1928" y="930" font-size="15" textLength="778" lengthAdjust="spacingAndGlyphs">Fig. 3: Ranking of conferences by the number of AD-related published papers. Proceedings with less than 2 papers are not</text>
<text class="serif" x="1928" y="948.5" font-size="15">shown.</text>

<!-- ================= PAGE 4 ================= -->
<text class="serif" x="2855.7" y="101" font-size="17" textLength="251" lengthAdjust="spacingAndGlyphs">Cleaned up raw data for journal papers:</text>
<text class="mono" x="2855" y="117.7">
<tspan x="2855" dy="0">ACM Computing Surveys 1994, 1</tspan>
<tspan x="2855" dy="9.06">ACM SIGNUM Newsletter 1987, 1; 1988, 1; 1989, 1; 1995, 1</tspan>
<tspan x="2855" dy="9.06">ACM Transactions on Mathematical Software 1980, 2; 1981, 2; 1982, 2; 1984, 2; 1985, 1; 1992, 1; 1995, 2; 1996, 1; 1998, 1; 1999, 1; 2000, 5; 2002, 1; 2003, 2; 2004, 1;</tspan>
<tspan x="2885" dy="9.06">2005, 2; 2006, 1; 2007, 1; 2008, 4; 2010, 1; 2012, 2; 2013, 4; 2014, 2</tspan>
<tspan x="2855" dy="9.06">ACM Transactions on Programming Languages and Systems 1983, 1; 1989, 1; 1991, 1; 1993, 1; 2008, 1</tspan>
<tspan x="2855" dy="9.06">Acta Crystallographica Section D 2004, 1</tspan>
<tspan x="2855" dy="9.06">Acta Informatica 1972, 1</tspan>
<tspan x="2855" dy="9.06">Acta Oecologica 2004, 1</tspan>
<tspan x="2855" dy="9.06">Advances in Engineering Software 2000, 1; 2003, 1</tspan>
<tspan x="2855" dy="9.06">Advances in Space Research 2000, 1</tspan>
<tspan x="2855" dy="9.06">Advances in Water Resources 2006, 1</tspan>
<tspan x="2855" dy="9.06">Aerosol Science And Technology 2005, 1</tspan>
<tspan x="2855" dy="9.06">AIAA Journal 1997, 1; 2005, 1; 2008, 1</tspan>
<tspan x="2855" dy="9.06">Annales Geophysicae 1996, 1</tspan>
<tspan x="2855" dy="9.06">Annals of Biomedical Engineering 2010, 1</tspan>
<tspan x="2855" dy="9.06">Applied Mathematics and Computation 1987, 2; 1990, 1; 2009, 1</tspan>
<tspan x="2855" dy="9.06">Applied Numerical Mathematics 1992, 1; 1996, 1; 1997, 1</tspan>
<tspan x="2855" dy="9.06">Atmospheric Chemistry And Physics 2003, 1; 2005, 1</tspan>
<tspan x="2855" dy="9.06">Atmospheric Environment 1997, 1</tspan>
<tspan x="2855" dy="9.06">Atmospheric Measurement Techniques 2011, 1</tspan>
<tspan x="2855" dy="9.06">Automatisierungstechnik 2008, 1</tspan>
<tspan x="2855" dy="9.06">Biometrics 1983, 1</tspan>
<tspan x="2855" dy="9.06">BIT 2005, 1</tspan>
<tspan x="2855" dy="9.06">Bulletin of the American Meteorological Society 1997, 1</tspan>
<tspan x="2855" dy="9.06">BYTE 1986, 1</tspan>
<tspan x="2855" dy="9.06">Canadian Journal of Fisheries and Aquatic Sciences 2001, 1</tspan>
<tspan x="2855" dy="9.06">Chemical Engineering Science 2008, 1</tspan>
<tspan x="2855" dy="9.06">Climatic Change 1997, 1</tspan>
<tspan x="2855" dy="9.06">CLIVAR Exchanges Newsletter 2000, 2</tspan>
<tspan x="2855" dy="9.06">CNLS Research Highlights 1998, 1</tspan>
<tspan x="2855" dy="9.06">College Mathematics Journal 1989, 1</tspan>
<tspan x="2855" dy="9.06">Communications in Nonlinear Science and Numerical Simulation 2013, 1</tspan>
<tspan x="2855" dy="9.06">Complex Variables and Elliptic Equations 2009, 1</tspan>
<tspan x="2855" dy="9.06">Comptes Rendus Mecanique 2008, 2</tspan>
<tspan x="2855" dy="9.06">Computational Complexity 1997, 1</tspan>
<tspan x="2855" dy="9.06">Computational Mathematics and Mathematical Physics 1997, 1</tspan>
<tspan x="2855" dy="9.06">Computational Optimization and Applications 1995, 2; 1997, 1; 1998, 1; 2003, 1; 2004, 1</tspan>
<tspan x="2855" dy="9.06">Computational Statistics and Data Analysis 1988, 1; 2006, 1; 2011, 1</tspan>
<tspan x="2855" dy="9.06">Computer Graphics Forum 2013, 1</tspan>
<tspan x="2855" dy="9.06">Computer Journal 1983, 1</tspan>
<tspan x="2855" dy="9.06">Computer Methods in Applied Mechanics and Engineering 1994, 1; 1998, 1; 2005, 1; 2008, 1; 2009, 1; 2010, 1; 2011, 1</tspan>
<tspan x="2855" dy="9.06">Computer Physics Communications 2000, 1; 2002, 1; 2005, 1; 2006, 1; 2007, 1; 2010, 2; 2013, 1</tspan>
<tspan x="2855" dy="9.06">Computer Science and Information Systems 2007, 1</tspan>
<tspan x="2855" dy="9.06">Computers and Chemical Engineering 1988, 1; 1990, 1; 1995, 1; 1998, 1; 2003, 1; 2013, 1</tspan>
<tspan x="2855" dy="9.06">Computers and Fluids 2006, 1</tspan>
<tspan x="2855" dy="9.06">Computers and Geosciences 2002, 1</tspan>
<tspan x="2855" dy="9.06">Computers and Mathematics with Applications 1985, 1; 1986, 1; 1994, 1</tspan>
<tspan x="2855" dy="9.06">Computers and Structures 2010, 1</tspan>
<tspan x="2855" dy="9.06">Computers in Physics 1996, 1</tspan>
<tspan x="2855" dy="9.06">Computing and Visualization in Science 2001, 1</tspan>
<tspan x="2855" dy="9.06">Computing Systems in Engineering 1992, 1</tspan>
<tspan x="2855" dy="9.06">Computing 1979, 1; 1984, 1; 1996, 1; 2012, 1</tspan>
<tspan x="2855" dy="9.06">Current Science 2000, 1</tspan>
<tspan x="2855" dy="9.06">Deep Sea Research Part I: Oceanographic Research Papers 2004, 1</tspan>
<tspan x="2855" dy="9.06">Deep Sea Research Part II: Topical Studies in Oceanography 2011, 1</tspan>
<tspan x="2855" dy="9.06">Discrete and Continous Dynamical Systems Supplements 2011, 1</tspan>
<tspan x="2855" dy="9.06">Discrete Applied Mathematics 2008, 1</tspan>
<tspan x="2855" dy="9.06">Discussiones Mathematicae, Differential Inclusions, Control and Optimization 2007, 1</tspan>
<tspan x="2855" dy="9.06">Dynamical Systems and Differential Equations, AIMS 2013, 1</tspan>
<tspan x="2855" dy="9.06">Earth and Planetary Science Letters 2007, 1</tspan>
<tspan x="2855" dy="9.06">Econometrics Journal 2003, 1</tspan>
<tspan x="2855" dy="9.06">Electrical Engineering in Japan 2005, 1</tspan>
<tspan x="2855" dy="9.06">Electronic Notes in Theoretical Computer Science 2007, 1</tspan>
<tspan x="2855" dy="9.06">Electronic Transactions on Numerical Analysis 2005, 1</tspan>
<tspan x="2855" dy="9.06">Environmental and Ecological Statistics 2008, 1</tspan>
<tspan x="2855" dy="9.06">Environmental Modelling and Software 2000, 1</tspan>
<tspan x="2855" dy="9.06">Eos, Transactions 2002, 2</tspan>
<tspan x="2855" dy="9.06">Finite Elements in Analysis and Design 1993, 1</tspan>
<tspan x="2855" dy="9.06">Flow, Turbulence and Combustion 2000, 2; 2001, 1</tspan>
<tspan x="2855" dy="9.06">Future Generation Computer Systems 2005, 10</tspan>
<tspan x="2855" dy="9.06">GACM Report 2011, 1</tspan>
<tspan x="2855" dy="9.06">General Relativity and Gravitation 2005, 1</tspan>
<tspan x="2855" dy="9.06">Geophysical Journal International 2005, 1; 2006, 1; 2007, 2</tspan>
<tspan x="2855" dy="9.06">Geophysical Research Abstracts 2005, 2</tspan>
<tspan x="2855" dy="9.06">Geophysical Research Letters 2003, 1; 2006, 1</tspan>
<tspan x="2855" dy="9.06">Geoscience and Remote Sensing Letters 2007, 1</tspan>
<tspan x="2855" dy="9.06">Geoscientific Instrumentation, Methods and Data Systems 2013, 1</tspan>
<tspan x="2855" dy="9.06">Global Biogeochemical Cycles 2002, 1; 2005, 1</tspan>
<tspan x="2855" dy="9.06">Higher-Order and Symbolic Computation 2001, 1; 2008, 2</tspan>
<tspan x="2855" dy="9.06">IEEE Computational Science and Engineering 1996, 1; 1998, 1</tspan>
<tspan x="2855" dy="9.06">IEEE Transactions on Automatic Control 1994, 1</tspan>
<tspan x="2855" dy="9.06">IEEE Transactions on Antennas and Propagation 2009, 1</tspan>
<tspan x="2855" dy="9.06">IEEE Transactions on Electron Devices 1988, 1</tspan>
<tspan x="2855" dy="9.06">IEEE Transactions on Geoscience and Remote Sensing 2008, 1</tspan>
<tspan x="2855" dy="9.06">IEEE Transactions on Magnetics Magnetics Society 2010, 1; 2011, 1</tspan>
<tspan x="2855" dy="9.06">IEEE Transactions on Power Systems 1997, 1; 1999, 1</tspan>
<tspan x="2855" dy="9.06">IEICE Transactions 1991, 1</tspan>
<tspan x="2855" dy="9.06">IMA Journal of Numerical Analysis 1986, 1; 1991, 1; 1992, 1</tspan>
<tspan x="2855" dy="9.06">IMACS Annals of Computing and Applied Mathematics 1992, 1</tspan>
<tspan x="2855" dy="9.06">IMACS Transactions on Scientific Computing 1989, 1</tspan>
<tspan x="2855" dy="9.06">Industrial and Engineering Chemistry Research 1989, 1; 2004, 1</tspan>
<tspan x="2855" dy="9.06">Informatik-Spektrum 2008, 1</tspan>
<tspan x="2855" dy="9.06">INFORMS Journal on Computing 1997, 1; 2009, 1</tspan>
<tspan x="2855" dy="9.06">International Journal for Numerical Methods in Engineering 1998, 1; 2003, 2; 2006, 1</tspan>
<tspan x="2855" dy="9.06">International Journal for Numerical Methods in Fluids 2002, 1; 2005, 1; 2009, 1; 2010, 1; 2011, 1</tspan>
<tspan x="2855" dy="9.06">International Journal of Computational Science and Engineering 2014, 1</tspan>
<tspan x="2855" dy="9.06">International Journal of High Performance Computing and Networking 1999, 1</tspan>
<tspan x="2855" dy="9.06">International Journal of High Speed Computing 2004, 1</tspan>
<tspan x="2855" dy="9.06">International Journal of Numerical Methods in Fluids 2005, 1</tspan>
<tspan x="2855" dy="9.06">International Journal of Radiation Oncology Biology Physics 1993, 1</tspan>
<tspan x="2855" dy="9.06">International Journal on Control 1988, 1</tspan>
<tspan x="2855" dy="9.06">International WOCE Newsletter 1999, 2</tspan>
<tspan x="2855" dy="9.06">Japan Journal of Applied Mathematics 1984, 1</tspan>
<tspan x="2855" dy="9.06">Journal of Applied Meteorology 2002, 1</tspan>
<tspan x="2855" dy="9.06">Journal of Atmospheric And Oceanic Technology 2003, 1</tspan>
<tspan x="2855" dy="9.06">Journal of Atmospheric and Solar-Terrestrial Physics 2004, 1</tspan>
<tspan x="2855" dy="9.06">Journal of Atmospheric Chemistry 2005, 1</tspan>
<tspan x="2855" dy="9.06">Journal of Chemical Physics 1992, 1; 2001, 1; 2005, 1</tspan>
<tspan x="2855" dy="9.06">Journal of Climate 1997, 1; 2001, 1; 2002, 2; 2003, 2</tspan>
</text>

<!-- ================= PAGE 5 ================= -->
<text class="mono" x="3781.6" y="99.7">
<tspan x="3781.6" dy="0">Journal of Computational Acoustics 2004, 1</tspan>
<tspan x="3781.6" dy="9.06">Journal of Computational and Applied Mathematics 1988, 1; 1991, 1; 1995, 1; 2000, 1; 2002, 1; 2008, 1; 2009, 1</tspan>
<tspan x="3781.6" dy="9.06">Journal of Computational and Graphical Statistics 1995, 1</tspan>
<tspan x="3781.6" dy="9.06">Journal of Computational Physics 1981, 1; 1994, 1; 1996, 2; 2000, 2; 2004, 1; 2005, 1; 2010, 1; 2013, 1; 2014, 2</tspan>
<tspan x="3781.6" dy="9.06">Journal of Econometrics 1994, 1</tspan>
<tspan x="3781.6" dy="9.06">Journal of Economic Dynamics and Control 1998, 1</tspan>
<tspan x="3781.6" dy="9.06">Journal of Fluids Engineering 2007, 1</tspan>
<tspan x="3781.6" dy="9.06">Journal of Geophysical Research 1998, 1; 1999, 3; 2000, 1; 2001, 3; 2002, 3; 2003, 2; 2004, 4; 2005, 1</tspan>
<tspan x="3781.6" dy="9.06">Journal of Global Optimization 1995, 1</tspan>
<tspan x="3781.6" dy="9.06">Journal of Graphics, GPU, and Game Tools 2004, 1</tspan>
<tspan x="3781.6" dy="9.06">Journal of Hydrometeorology 2001, 1; 2003, 1</tspan>
<tspan x="3781.6" dy="9.06">Journal of Information Processing 1991, 1</tspan>
<tspan x="3781.6" dy="9.06">Journal of Marine Systems 2001, 1</tspan>
<tspan x="3781.6" dy="9.06">Journal of Mathematical Analysis and Applications 1983, 1</tspan>
<tspan x="3781.6" dy="9.06">Journal of Mathematical Physics 1981, 1</tspan>
<tspan x="3781.6" dy="9.06">Journal of Object Oriented Programming 1990, 1</tspan>
<tspan x="3781.6" dy="9.06">Journal of Oceanography 2006, 1</tspan>
<tspan x="3781.6" dy="9.06">Journal of Optimization Theory and Applications 1979, 1; 1983, 1; 1984, 1; 1988, 1; 1989, 2; 2000, 1; 2004, 1</tspan>
<tspan x="3781.6" dy="9.06">Journal of Parallel and Distributed Computing 1997, 1; 2008, 1</tspan>
<tspan x="3781.6" dy="9.06">Journal of Physical Oceanography 2002, 4; 2003, 2; 2004, 1; 2005, 2; 2006, 1</tspan>
<tspan x="3781.6" dy="9.06">Journal of Quantitative Spectroscopy and Radiative Transfer 2014, 1</tspan>
<tspan x="3781.6" dy="9.06">Journal of Sound and Vibration 1995, 1</tspan>
<tspan x="3781.6" dy="9.06">Journal of Symbolic Computation 1986, 1; 1994, 1</tspan>
<tspan x="3781.6" dy="9.06">Journal of Systems and Software 2006, 1</tspan>
<tspan x="3781.6" dy="9.06">Journal of the Atmospheric Sciences 1982, 1; 1996, 1; 1999, 1; 2003, 2; 2006, 1</tspan>
<tspan x="3781.6" dy="9.06">Journal of the Institute of Mathematics and Applications 1974, 1</tspan>
<tspan x="3781.6" dy="9.06">Journal of Volcanology and Geothermal Research 2008, 1</tspan>
<tspan x="3781.6" dy="9.06">Journal of Water Resources Planning and Management 1999, 1</tspan>
<tspan x="3781.6" dy="9.06">Journal on Numerical Methods and Computer Applications 2003, 1</tspan>
<tspan x="3781.6" dy="9.06">Linear Algebra and Its Applications 1991, 1</tspan>
<tspan x="3781.6" dy="9.06">Magnetics Transactions on 2005, 1</tspan>
<tspan x="3781.6" dy="9.06">MATEKON 1985, 1</tspan>
<tspan x="3781.6" dy="9.06">Matematicheskoe Modelirovanie 1989, 1</tspan>
<tspan x="3781.6" dy="9.06">Mathematica Numerica Sinica 2009, 1</tspan>
<tspan x="3781.6" dy="9.06">Mathematical and Computer Modelling 2003, 1</tspan>
<tspan x="3781.6" dy="9.06">Mathematical Geology 2005, 1</tspan>
<tspan x="3781.6" dy="9.06">Mathematical Modelling and Numerical Analysis 2002, 1</tspan>
<tspan x="3781.6" dy="9.06">Mathematical Proceedings of the Cambridge Philosophical Society 1978, 1</tspan>
<tspan x="3781.6" dy="9.06">Mathematical Programming 1978, 1984, 1; 1988, 1; 2002, 1; 2003, 1; 2004, 1; 2006, 1; 2008, 1</tspan>
<tspan x="3781.6" dy="9.06">Mathematics and Computers in Simulation 2010, 1; 2011, 1</tspan>
<tspan x="3781.6" dy="9.06">Mathematics Magazine 1986, 1</tspan>
<tspan x="3781.6" dy="9.06">Mathematics of Computation 1984, 1; 1999, 1; 2000, 1; 2005, 1</tspan>
<tspan x="3781.6" dy="9.06">Measurement Science and Technology 2002, 1; 2003, 1</tspan>
<tspan x="3781.6" dy="9.06">Meteorology And Atmospheric Physics 2004, 1</tspan>
<tspan x="3781.6" dy="9.06">Methoden Und Verfahren Der Mathematischen Physik 1971, 1</tspan>
<tspan x="3781.6" dy="9.06">Monthly Weather Review 1992, 2; 1997, 1; 1998, 1; 2000, 1; 2001, 2; 2002, 4; 2003, 1; 2005, 1</tspan>
<tspan x="3781.6" dy="9.06">Neural Computation 1994, 1</tspan>
<tspan x="3781.6" dy="9.06">Nonlinear Optimization 1981, 1</tspan>
<tspan x="3781.6" dy="9.06">Numerical Algorithms 1998, 1</tspan>
<tspan x="3781.6" dy="9.06">Numerische Mathematik 1977, 1; 1982, 1; 1993, 1; 1994, 1</tspan>
<tspan x="3781.6" dy="9.06">Ocean Modeling Journal 2006, 1</tspan>
<tspan x="3781.6" dy="9.06">Optimization and Engineering 2001, 1; 2005, 1; 2008, 1</tspan>
<tspan x="3781.6" dy="9.06">Optimization Methods and Software 1991, 1; 1992, 2; 1993, 2; 1994, 2; 1996, 1; 1997, 1; 1998, 4; 1999, 2; 2000, 2; 2001, 2; 2002, 2; 2003, 1; 2009, 1; 2010, 1; 2011, 1;</tspan>
<tspan x="3832.6" dy="9.06">2012, 12; 2013, 1</tspan>
<tspan x="3781.6" dy="9.06">Optimization 2001, 1</tspan>
<tspan x="3781.6" dy="9.06">ORSA Journal on Computing 1993, 1</tspan>
<tspan x="3781.6" dy="9.06">Parallel Computing 1990, 1; 2001, 1</tspan>
<tspan x="3781.6" dy="9.06">Particle Accelerators 1989, 2</tspan>
<tspan x="3781.6" dy="9.06">Physica D. 2005, 1</tspan>
<tspan x="3781.6" dy="9.06">Physics and Chemistry of the Earth 1996, 1</tspan>
<tspan x="3781.6" dy="9.06">Physics of Fluids 2005, 1</tspan>
<tspan x="3781.6" dy="9.06">Policy Analysis and Information Systems 1979, 1</tspan>
<tspan x="3781.6" dy="9.06">Procedia Computer Science 2010, 4; 2011, 1; 2013, 1</tspan>
<tspan x="3781.6" dy="9.06">Proceedings in Applied Mathematics and Mechanics 2003, 3; 2007, 3; 2010, 1</tspan>
<tspan x="3781.6" dy="9.06">Progress in Natural Science 2002, 1; 2009, 1</tspan>
<tspan x="3781.6" dy="9.06">Quarterly Journal of the Royal Meteorological Society 1987, 2; 2001, 1; 2002, 1; 2003, 1</tspan>
<tspan x="3781.6" dy="9.06">Reliable Computing 1998, 1; 2007, 1</tspan>
<tspan x="3781.6" dy="9.06">Remote Sensing of the Environment 2006, 1</tspan>
<tspan x="3781.6" dy="9.06">Science in China 2004, 1; 2009, 1</tspan>
<tspan x="3781.6" dy="9.06">Science 2001, 1</tspan>
<tspan x="3781.6" dy="9.06">Scientific Programming 1992, 1; 2001, 1; 2003, 1; 2006, 1; 2008, 1</tspan>
<tspan x="3781.6" dy="9.06">SIAG/OPT Views-and-News 2000, 1</tspan>
<tspan x="3781.6" dy="9.06">SIAM Journal of Numerical Analysis 1978, 1</tspan>
<tspan x="3781.6" dy="9.06">SIAM Journal on Algebraic and Discrete Methods 1983, 1; 1986, 1</tspan>
<tspan x="3781.6" dy="9.06">SIAM Journal on Computing 1988, 1</tspan>
<tspan x="3781.6" dy="9.06">SIAM Journal on Discrete Mathematics 1981, 1</tspan>
<tspan x="3781.6" dy="9.06">SIAM Journal on Matrix Analysis and Applications 1996, 1</tspan>
<tspan x="3781.6" dy="9.06">SIAM Journal on Numerical Analysis 1974, 1; 1979, 1; 1983, 1; 1997, 1</tspan>
<tspan x="3781.6" dy="9.06">SIAM Journal on Optimization 1991, 1; 2002, 2; 2005, 1</tspan>
<tspan x="3781.6" dy="9.06">SIAM Journal on Scientific Computing 1994, 2; 1995, 1; 1997, 1; 1998, 2; 1999, 2; 2000, 3; 2001, 1; 2002, 1; 2003, 1; 2005, 3; 2006, 1; 2007, 1; 2008, 3; 2009, 1</tspan>
<tspan x="3781.6" dy="9.06">SIAM Journal on Statistical and Scientific Computing 1980, 1; 1987, 1; 1988, 1; 1992, 1; 1993, 1</tspan>
<tspan x="3781.6" dy="9.06">SIAM News 1991, 1</tspan>
<tspan x="3781.6" dy="9.06">SIAM Review 1988, 1; 2005, 1; 2010, 1</tspan>
<tspan x="3781.6" dy="9.06">SIGACT News 1985, 1</tspan>
<tspan x="3781.6" dy="9.06">Simulation Modelling Practice and Theory 2004, 1</tspan>
<tspan x="3781.6" dy="9.06">Software--Practice and Experience 1997, 1</tspan>
<tspan x="3781.6" dy="9.06">Structural and Multidisciplinary Optimization 1995, 1; 2000, 1</tspan>
<tspan x="3781.6" dy="9.06">Studia Geophysica et Geodaetica 2001, 1</tspan>
<tspan x="3781.6" dy="9.06">Tellus 1985, 1; 1990, 1; 1993, 1; 1996, 1; 2000, 2; 2003, 1</tspan>
<tspan x="3781.6" dy="9.06">The American Statistician 1984, 1</tspan>
<tspan x="3781.6" dy="9.06">The Computer Journal 1970, 2; 2008, 1</tspan>
<tspan x="3781.6" dy="9.06">The Journal of Chemical Physics 2001, 1</tspan>
<tspan x="3781.6" dy="9.06">The Review of Economics and Statistics 1984, 1</tspan>
<tspan x="3781.6" dy="9.06">Theoretical Computer Science 1983, 1</tspan>
<tspan x="3781.6" dy="9.06">Transactions of Information Processing Society of Japan 1987, 1; 1988, 1; 1989, 3</tspan>
<tspan x="3781.6" dy="9.06">Transactions of the American Nuclear Society 2010, 1</tspan>
<tspan x="3781.6" dy="9.06">Transactions on Graphics 2011, 1</tspan>
<tspan x="3781.6" dy="9.06">Weather and Forecasting 2002, 1</tspan>
<tspan x="3781.6" dy="9.06">Wissenschaftliche Zeitschrift der Technischen Hochschule fuer Chemie, Leuna-Merseburg 1971, 1</tspan>
<tspan x="3781.6" dy="9.06">WSEAS Transactions on Circuits and Systems 2005, 1</tspan>
<tspan x="3781.6" dy="9.06">WSEAS Transactions on Mathematics 2006, 1</tspan>
<tspan x="3781.6" dy="9.06">Yugoslav Journal of Operations Research 1991, 1</tspan>
</text>
</svg>
</body></html>
